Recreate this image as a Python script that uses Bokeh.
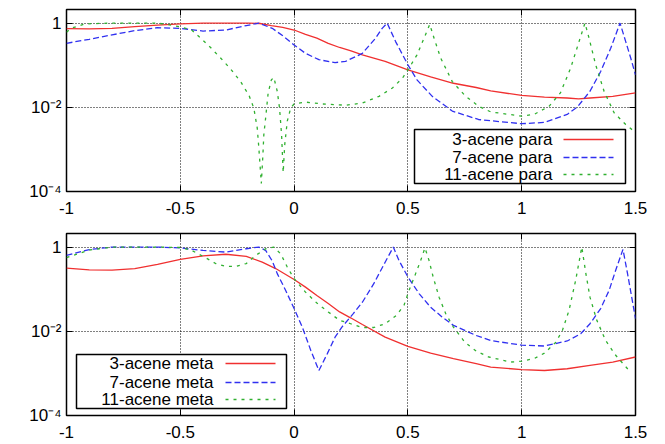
from bokeh.plotting import figure
from bokeh.layouts import column
from bokeh.models import (FixedTicker, CustomJSTickFormatter, LinearAxis, LogAxis,
                          BoxAnnotation, Label, Arrow)
from bokeh.embed import file_html
from bokeh.resources import INLINE

FONT = "Liberation Sans"
FS = "17px"

X_TICKS = [-1, -0.5, 0, 0.5, 1, 1.5]
X_TICK_LABELS = ["-1", "-0.5", "0", "0.5", "1", "1.5"]
Y_TICKS = [1e-4, 1e-2, 1]
Y_TICK_LABELS = ["10\u207b\u2074", "10\u207b\u00b2", "1"]

COLORS = ["#f03030", "#3030f0", "#30b030"]
DASHES = ["solid", "6 3", "3 5"]

# ---------------- top panel (para) ----------------
para3_x = [-1, -0.9, -0.8, -0.7, -0.6, -0.5, -0.4, -0.3, -0.2, -0.15, -0.1, -0.05, 0, 0.05, 0.1,
           0.15, 0.2, 0.25, 0.3, 0.4, 0.5, 0.6, 0.7, 0.8, 0.864, 1.0, 1.1, 1.2, 1.25, 1.3, 1.4, 1.5]
para3_y = [0.741, 0.724, 0.750, 0.820, 0.898, 0.955, 1.0, 1.0, 1.0, 0.977, 0.871, 0.794, 0.684, 0.537, 0.437,
           0.331, 0.263, 0.219, 0.176, 0.123, 0.0776, 0.0525, 0.0372, 0.0295, 0.0245, 0.0191, 0.0174, 0.0166,
           0.0158, 0.0166, 0.0182, 0.0219]

para7_x = [-1, -0.9, -0.8, -0.7, -0.6, -0.5, -0.4, -0.3, -0.21, -0.155, -0.096, -0.045, 0, 0.05, 0.109,
           0.18, 0.226, 0.3, 0.358, 0.387, 0.409, 0.446, 0.5, 0.54, 0.607, 0.695, 0.81, 0.864, 1.0, 1.1,
           1.2, 1.245, 1.3, 1.347, 1.391, 1.413, 1.432, 1.457, 1.479, 1.5]
para7_y = [0.331, 0.412, 0.525, 0.661, 0.776, 0.750, 0.646, 0.684, 0.871, 1.0, 0.750, 0.479, 0.302, 0.191, 0.135,
           0.115, 0.123, 0.191, 0.437, 0.750, 1.0, 0.363, 0.102, 0.0447, 0.0182, 0.00813, 0.00513, 0.00479,
           0.00407, 0.00437, 0.00676, 0.0102, 0.0240, 0.0708, 0.251, 0.525, 1.0, 0.363, 0.148, 0.0589]

para11_x = [-1, -0.98, -0.92, -0.8, -0.7, -0.6, -0.54, -0.5, -0.45, -0.41, -0.367, -0.323, -0.279, -0.235,
            -0.198, -0.177, -0.162, -0.155, -0.144, -0.137, -0.133, -0.125, -0.114, -0.10, -0.089, -0.074,
            -0.064, -0.055, -0.048, -0.041, -0.030, -0.015, 0, 0.05, 0.124, 0.226, 0.30, 0.373, 0.432, 0.476,
            0.505, 0.54, 0.571, 0.596, 0.615, 0.644, 0.695, 0.754, 0.812, 0.864, 1.0, 1.054, 1.12, 1.17,
            1.215, 1.252, 1.278, 1.296, 1.325, 1.362, 1.406, 1.457, 1.494]
para11_y = [0.603, 0.750, 0.955, 1.0, 1.0, 1.0, 0.891, 0.813, 0.684, 0.437, 0.263, 0.148, 0.0813, 0.0407,
            0.0191, 0.00955, 0.00324, 0.00110, 0.000155, 0.000759, 0.00224, 0.00562, 0.0219, 0.0447, 0.0513,
            0.0240, 0.00955, 0.00224, 0.000282, 0.00132, 0.00468, 0.00955, 0.0120, 0.0133, 0.0120, 0.0112,
            0.0126, 0.0182, 0.0288, 0.0490, 0.0851, 0.176, 0.437, 0.933, 0.437, 0.148, 0.0407, 0.0182, 0.0105,
            0.00776, 0.00617, 0.00676, 0.0105, 0.0219, 0.0851, 0.363, 1.0, 0.437, 0.102, 0.0240, 0.00741,
            0.00389, 0.00269]

# ---------------- bottom panel (meta) ----------------
meta3_x = [-1, -0.9, -0.8, -0.7, -0.6, -0.5, -0.4, -0.3, -0.21, -0.14, -0.081, 0, 0.05, 0.1, 0.15, 0.2,
           0.248, 0.3, 0.4, 0.5, 0.6, 0.7, 0.8, 0.864, 1.0, 1.1, 1.2, 1.3, 1.4, 1.5]
meta3_y = [0.316, 0.288, 0.282, 0.309, 0.389, 0.513, 0.617, 0.676, 0.603, 0.437, 0.309, 0.170, 0.112, 0.0708,
           0.0457, 0.0288, 0.0209, 0.0145, 0.00724, 0.00437, 0.00302, 0.00224, 0.00170, 0.00141, 0.00123,
           0.00117, 0.00129, 0.00155, 0.00186, 0.00245]

meta7_x = [-1, -0.9, -0.8, -0.6, -0.5, -0.4, -0.3, -0.21, -0.155, -0.125, -0.096, -0.074, -0.037, 0, 0.036,
           0.073, 0.109, 0.146, 0.18, 0.21, 0.26, 0.30, 0.35, 0.40, 0.436, 0.461, 0.50, 0.55, 0.60, 0.65,
           0.70, 0.75, 0.80, 0.864, 1.0, 1.1, 1.2, 1.259, 1.3, 1.347, 1.384, 1.413, 1.445, 1.465, 1.5]
meta7_y = [0.631, 0.871, 1.0, 1.0, 0.955, 0.832, 0.759, 0.912, 1.0, 0.832, 0.468, 0.234, 0.0933, 0.0347,
           0.0126, 0.00355, 0.00117, 0.00295, 0.00724, 0.0126, 0.0263, 0.0490, 0.135, 0.437, 1.0, 0.479,
           0.195, 0.0776, 0.0372, 0.0219, 0.0138, 0.0105, 0.00794, 0.00603, 0.00468, 0.00447, 0.00589,
           0.00871, 0.0151, 0.0347, 0.0933, 0.282, 0.881, 0.234, 0.0200]

meta11_x = [-1, -0.9, -0.8, -0.6, -0.5, -0.45, -0.393, -0.345, -0.30, -0.257, -0.21, -0.169, -0.125, -0.09,
            -0.059, -0.03, 0, 0.05, 0.1, 0.15, 0.2, 0.248, 0.30, 0.35, 0.40, 0.45, 0.483, 0.505, 0.534, 0.556,
            0.575, 0.593, 0.611, 0.637, 0.666, 0.70, 0.75, 0.80, 0.855, 0.952, 1.0, 1.054, 1.1, 1.15, 1.179,
            1.208, 1.237, 1.264, 1.282, 1.30, 1.33, 1.369, 1.413, 1.472]
meta11_y = [0.562, 0.851, 1.0, 1.0, 0.977, 0.832, 0.575, 0.407, 0.347, 0.347, 0.407, 0.631, 0.912, 1.0, 0.692,
            0.335, 0.178, 0.0851, 0.0468, 0.0288, 0.0182, 0.0151, 0.0123, 0.0123, 0.0151, 0.0240, 0.0417,
            0.0933, 0.234, 0.479, 0.955, 0.479, 0.195, 0.0646, 0.0263, 0.0126, 0.00550, 0.00339, 0.00245,
            0.00186, 0.00195, 0.00224, 0.00302, 0.00550, 0.0105, 0.0316, 0.162, 1.0, 0.234, 0.0646, 0.0182,
            0.00603, 0.00269, 0.00117]

TOP_NAMES = ["3-acene para", "7-acene para", "11-acene para"]
BOTTOM_NAMES = ["3-acene meta", "7-acene meta", "11-acene meta"]

X_RANGE = (-1, 1.5)
Y_RANGE = (1e-4, 2.1)

FMT_CODE = """
let best = 0;
for (let i = 0; i < tvals.length; i++) {
  if (Math.abs(tvals[i] - tick) < Math.abs(tvals[best] - tick)) best = i;
}
return tlabels[best];
"""


def style_axis(ax, tick_vals, tick_labels, show_labels, standoff):
    ax.ticker = FixedTicker(ticks=tick_vals)
    ax.axis_line_color = None
    ax.major_tick_in = 6
    ax.major_tick_out = 0
    ax.major_tick_line_color = "black"
    ax.major_tick_line_width = 1
    ax.minor_tick_line_color = None
    if show_labels:
        ax.formatter = CustomJSTickFormatter(args=dict(tvals=tick_vals, tlabels=tick_labels), code=FMT_CODE)
        ax.major_label_text_font = FONT
        ax.major_label_text_font_size = FS
        ax.major_label_text_color = "black"
        ax.major_label_standoff = standoff
    else:
        ax.formatter = CustomJSTickFormatter(code="return '';")
        ax.major_label_text_font_size = "0px"
        ax.major_label_standoff = 0


def make_panel(series, names, height, border_top, border_bottom, x_standoff, legend):
    p = figure(width=660, height=height, x_range=X_RANGE, y_range=Y_RANGE, y_axis_type="log",
               output_backend="svg", toolbar_location=None,
               min_border_left=66, min_border_right=25,
               min_border_top=border_top, min_border_bottom=border_bottom)
    p.background_fill_color = "white"
    p.border_fill_color = "white"
    p.outline_line_color = "black"
    p.outline_line_width = 1.5
    p.outline_line_alpha = 1

    style_axis(p.xaxis[0], X_TICKS, X_TICK_LABELS, True, x_standoff)
    style_axis(p.yaxis[0], Y_TICKS, Y_TICK_LABELS, True, 5)
    top_ax = LinearAxis()
    style_axis(top_ax, X_TICKS, X_TICK_LABELS, False, 0)
    p.add_layout(top_ax, "above")
    right_ax = LogAxis()
    style_axis(right_ax, Y_TICKS, Y_TICK_LABELS, False, 0)
    p.add_layout(right_ax, "right")

    for g in (p.xgrid[0], p.ygrid[0]):
        g.grid_line_color = "black"
        g.grid_line_dash = "1 2"
        g.grid_line_width = 1
        g.grid_line_alpha = 1
    p.xgrid[0].ticker = FixedTicker(ticks=X_TICKS)
    p.ygrid[0].ticker = FixedTicker(ticks=Y_TICKS)

    for (xs, ys), c, d in zip(series, COLORS, DASHES):
        p.line(xs, ys, line_color=c, line_width=1.3, line_dash=d)

    # legend (gnuplot style: label on the left, sample on the right)
    bx0, bx1, by0, by1, label_x, s0, s1, rows = legend
    p.add_layout(BoxAnnotation(left=bx0, right=bx1, bottom=by0, top=by1,
                               left_units="screen", right_units="screen",
                               bottom_units="screen", top_units="screen",
                               fill_color="white", fill_alpha=1,
                               line_color="black", line_width=1.5, line_alpha=1))
    for name, c, d, ry in zip(names, COLORS, DASHES, rows):
        p.add_layout(Label(x=label_x, y=ry, x_units="screen", y_units="screen", text=name,
                           text_align="right", text_baseline="middle",
                           text_font=FONT, text_font_size=FS, text_color="black"))
        p.add_layout(Arrow(x_start=s0, y_start=ry, x_end=s1, y_end=ry,
                           start_units="screen", end_units="screen", end=None,
                           line_color=c, line_width=1.3, line_dash=d))
    return p


top = make_panel([(para3_x, para3_y), (para7_x, para7_y), (para11_x, para11_y)], TOP_NAMES,
                 height=229, border_top=9, border_bottom=38, x_standoff=10,
                 legend=(348, 559, 8, 62, 486, 497, 547, (52, 34, 17)))
bottom = make_panel([(meta3_x, meta3_y), (meta7_x, meta7_y), (meta11_x, meta11_y)], BOTTOM_NAMES,
                    height=215, border_top=4, border_bottom=29, x_standoff=10,
                    legend=(10, 220, 7, 61, 147, 159, 209, (52, 33, 16)))

layout = column(top, bottom, spacing=0)
open("out.html", "w").write(file_html(layout, INLINE))
